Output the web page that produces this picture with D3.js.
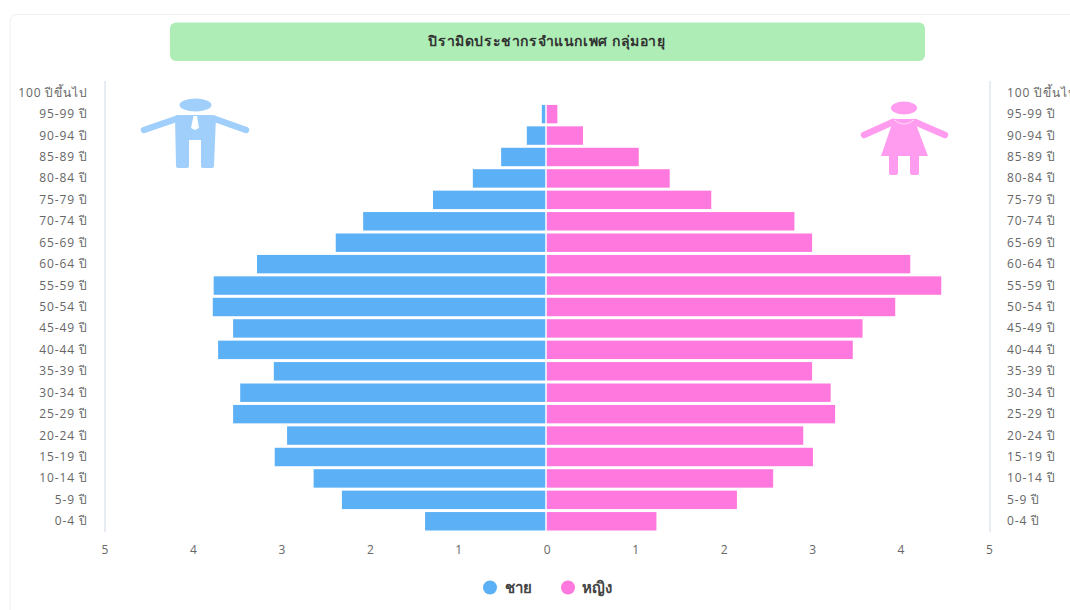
<!DOCTYPE html>
<html><head><meta charset="utf-8">
<script src="https://cdn.jsdelivr.net/npm/d3@7"></script>
<style>html,body{margin:0;padding:0;background:#fff;overflow:hidden}svg{display:block;font-family:"Open Sans",Roboto,"Noto Sans",sans-serif}</style>
</head><body><svg id="c" width="1070" height="610"></svg>
<script>
const chartTitle = "ปิรามิดประชากรจำแนกเพศ กลุ่มอายุ";
const ageGroups = ["100 ปีขึ้นไป","95-99 ปี","90-94 ปี","85-89 ปี","80-84 ปี","75-79 ปี","70-74 ปี","65-69 ปี","60-64 ปี","55-59 ปี","50-54 ปี","45-49 ปี","40-44 ปี","35-39 ปี","30-34 ปี","25-29 ปี","20-24 ปี","15-19 ปี","10-14 ปี","5-9 ปี","0-4 ปี"];
const maleValues = [0,0.05,0.22,0.51,0.83,1.28,2.07,2.38,3.27,3.76,3.77,3.54,3.71,3.08,3.46,3.54,2.93,3.07,2.63,2.31,1.37];
const femaleValues = [0,0.12,0.41,1.04,1.39,1.86,2.8,3.0,4.11,4.46,3.94,3.57,3.46,3.0,3.21,3.26,2.9,3.01,2.56,2.15,1.24];
const tickValues = [-5,-4,-3,-2,-1,0,1,2,3,4,5];
const seriesNames = ["ชาย","หญิง"];
const seriesColors = ["#5cb0f5","#ff78de"];
const iconColors = ["#a0cffb","#ff9cf0"];

const svg = d3.select("#c");
svg.append("rect").attr("x",10).attr("y",14.5).attr("width",1080).attr("height",620).attr("rx",7)
  .attr("fill","#fff").attr("stroke","#eeeeee");
svg.append("rect").attr("x",170).attr("y",22.5).attr("width",755).attr("height",38.5).attr("rx",6).attr("fill","#aeeeb6");
svg.append("text").attr("x",547).attr("y",46).attr("text-anchor","middle")
  .attr("font-size",14).attr("font-weight",600).attr("letter-spacing",0.6).attr("fill","#333").text(chartTitle);

const x = d3.scaleLinear().domain([-5,5]).range([105,989.5]);
const y = d3.scaleBand().domain(ageGroups).range([82,532]).paddingInner(0.14).paddingOuter(0.07);
const gap = 2;

[105,990].forEach(px=>svg.append("line").attr("x1",px).attr("x2",px).attr("y1",81).attr("y2",532).attr("stroke","#cfdbe6").attr("stroke-width",1));

const labelsL = svg.append("g").attr("font-size",12).attr("fill","#666").attr("letter-spacing",0.9);
const labelsR = svg.append("g").attr("font-size",12).attr("fill","#666").attr("letter-spacing",0.9);
ageGroups.forEach(a=>{
  const cy = y(a)+y.bandwidth()/2+4;
  labelsL.append("text").attr("x",88).attr("y",cy).attr("text-anchor","end").text(a);
  labelsR.append("text").attr("x",1007).attr("y",cy).text(a);
});

svg.append("g").selectAll("rect").data(maleValues).join("rect")
  .attr("x",d=>x(-d)-1).attr("width",d=>Math.max(0,x(d)-x(0)-1)).attr("y",(d,i)=>y(ageGroups[i])).attr("height",y.bandwidth())
  .attr("fill",seriesColors[0]);
svg.append("g").selectAll("rect").data(femaleValues).join("rect")
  .attr("x",x(0)-0.5).attr("width",d=>x(d)-x(0)).attr("y",(d,i)=>y(ageGroups[i])).attr("height",y.bandwidth())
  .attr("fill",seriesColors[1]);

svg.append("g").selectAll("text").data(tickValues).join("text")
  .attr("x",d=>x(d)).attr("y",554).attr("text-anchor","middle").attr("font-size",12).attr("fill","#666")
  .text(d=>Math.abs(d));

const lg = [[490,505],[568,582]];
seriesNames.forEach((n,i)=>{
  svg.append("circle").attr("cx",lg[i][0]).attr("cy",587.5).attr("r",7).attr("fill",seriesColors[i]);
  svg.append("text").attr("x",lg[i][1]).attr("y",593).attr("font-size",15).attr("font-weight",600).attr("fill","#444").text(n);
});

// man icon
const m = svg.append("g").attr("fill",iconColors[0]);
m.append("ellipse").attr("cx",195.5).attr("cy",105).attr("rx",16).attr("ry",6.5);
m.append("path").attr("d","M178 115 H212 Q214 115 216 116 L214 166 Q214 168 212 168 H203 Q201 168 201 166 V140 H189 V166 Q189 168 187 168 H178 Q176 168 176 166 L175 116 Q176 115 178 115Z");
m.append("path").attr("d","M176 119 L144 130 M215 119 L246 130").attr("fill","none").attr("stroke",iconColors[0]).attr("stroke-width",6.5).attr("stroke-linecap","round");
svg.append("path").attr("d","M193.5 116 L197 116 L199 128 L195 130 L191 128Z").attr("fill","#fff");
// woman icon
const w = svg.append("g").attr("fill",iconColors[1]);
w.append("ellipse").attr("cx",904).attr("cy",108).attr("rx",13).attr("ry",6.5);
w.append("path").attr("d","M893 119 H915 L917 127 L928 156 H881 L891 127Z");
w.append("path").attr("d","M893 122 L864 135 M915 122 L945 135").attr("fill","none").attr("stroke",iconColors[1]).attr("stroke-width",6.5).attr("stroke-linecap","round");
w.append("rect").attr("x",889).attr("y",154).attr("width",9).attr("height",21).attr("rx",2);
w.append("rect").attr("x",910).attr("y",154).attr("width",9).attr("height",21).attr("rx",2);
svg.append("path").attr("d","M894 120 Q904 128 914 120").attr("fill","none").attr("stroke","#ffd9f7").attr("stroke-width",1);
</script></body></html>
